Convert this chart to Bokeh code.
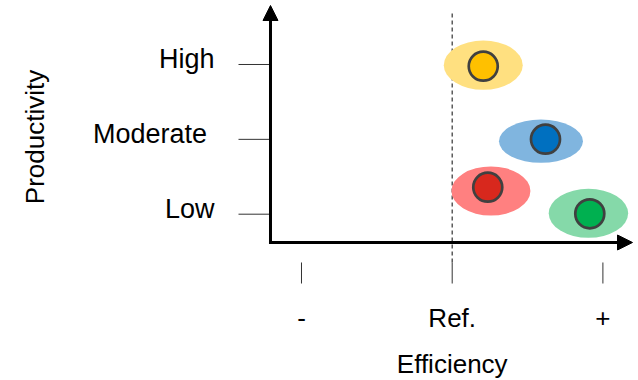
import math
from bokeh.plotting import figure
from bokeh.models import Arrow, NormalHead, Range1d
from bokeh.core.properties import value
from bokeh.embed import file_html
from bokeh.resources import INLINE

# ---- data ----
productivity_levels = [1, 2, 3]
productivity_labels = ["Low", "Moderate\u00a0", "High"]
efficiency_ticks = [-1, 0, 1]
efficiency_labels = ["-", "Ref.", "+"]
ref_value = 0

# point (circle) positions: efficiency, productivity
point_eff = [0.206, 0.619, 0.236, 0.913]
point_prod = [2.977, 2.002, 1.361, 1.005]
# spread (ellipse) centres and extents
spread_eff = [0.206, 0.589, 0.257, 0.904]
spread_prod = [2.991, 1.975, 1.310, 1.012]
spread_w = [0.524, 0.557, 0.524, 0.527]
spread_h = [0.659, 0.578, 0.655, 0.655]

point_colors = ["#FFC000", "#0070C0", "#D8281D", "#00B050"]
halo_colors = ["#FFE080", "#80B5DF", "#FF8080", "#85D9A9"]

FONT = "Liberation Sans"

x_start, x_end = -2.9973, 1.2362
y_start, y_end = -1.2218, 3.855
x_axis_at = 0.622      # productivity value where efficiency axis arrow sits
y_axis_at = -1.2057    # efficiency value where productivity axis arrow sits
y_tick_left = -1.418   # left end of the productivity tick marks
x_tick_top, x_tick_bottom = 0.3547, 0.0741   # extent of the efficiency tick marks
x_arrow_tip = 1.1964
y_arrow_tip = 3.788
ref_top = 3.681

p = figure(width=638, height=380, output_backend="svg", toolbar_location=None,
           x_range=Range1d(x_start, x_end), y_range=Range1d(y_start, y_end),
           min_border=0, outline_line_color=None,
           background_fill_color="white", border_fill_color="white")
p.grid.visible = False
p.axis.visible = False

txt = dict(text_font=value(FONT), text_font_size=value("26px"), text_color="black",
           text_baseline="middle")

# efficiency ticks and labels
m = len(efficiency_ticks)
p.segment(x0=efficiency_ticks, y0=[x_tick_top] * m, x1=efficiency_ticks,
          y1=[x_tick_bottom] * m, line_color="#333333", line_width=1)
p.text(x=efficiency_ticks, y=[x_tick_bottom] * m, text=efficiency_labels,
       y_offset=34.5, text_align="center", **txt)
p.text(x=[ref_value], y=[x_tick_bottom], text=["Efficiency"],
       y_offset=80.7, text_align="center", **txt)

# productivity ticks and labels
n = len(productivity_levels)
p.segment(x0=[y_tick_left] * n, y0=productivity_levels, x1=[y_axis_at] * n,
          y1=productivity_levels, line_color="#333333", line_width=1)
p.text(x=[y_tick_left] * n, y=productivity_levels, text=productivity_labels,
       x_offset=-24, y_offset=-5, text_align="right", text_baseline="middle",
       text_font=value(FONT), text_font_size=value("27px"), text_color="black")
p.text(x=[y_tick_left], y=[productivity_levels[1]], text=["Productivity"],
       x_offset=-204, y_offset=-2.4, angle=math.pi / 2, text_align="center", **txt)

# reference dashed line
p.segment(x0=[ref_value], y0=[x_tick_top], x1=[ref_value], y1=[ref_top],
          line_color="#404040", line_width=1.3, line_dash="4 3")

# spreads
p.ellipse(x=spread_eff, y=spread_prod, width=spread_w, height=spread_h,
          fill_color=halo_colors, line_color=None)

# points
p.scatter(x=point_eff, y=point_prod, size=29, fill_color=point_colors,
          line_color="#404040", line_width=2.7)

# axis arrows
p.add_layout(Arrow(end=NormalHead(size=15, fill_color="black", line_color="black"),
                   x_start=y_axis_at - 0.01, y_start=x_axis_at, x_end=x_arrow_tip, y_end=x_axis_at,
                   line_width=3, line_color="black"))
p.add_layout(Arrow(end=NormalHead(size=15, fill_color="black", line_color="black"),
                   x_start=y_axis_at, y_start=x_axis_at - 0.02, x_end=y_axis_at, y_end=y_arrow_tip,
                   line_width=3, line_color="black"))

open("out.html", "w").write(file_html(p, INLINE))
